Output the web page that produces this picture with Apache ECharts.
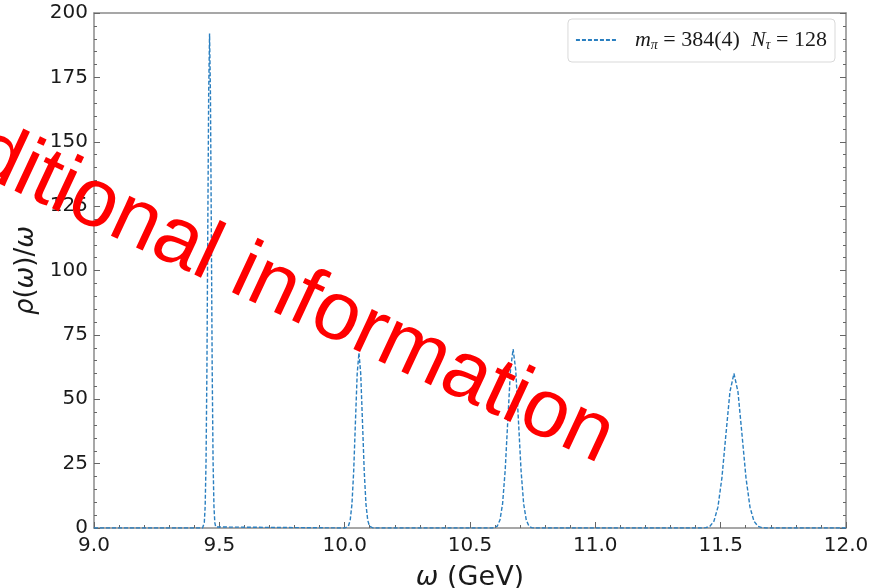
<!DOCTYPE html>
<html>
<head>
<meta charset="utf-8">
<script src="https://cdn.jsdelivr.net/npm/echarts@6/dist/echarts.min.js"></script>
<style>
  html, body { margin: 0; padding: 0; background: #fff; }
  #chart { width: 879px; height: 588px; }
</style>
</head>
<body>
<div id="chart"></div>
<script>
// Spectral function rho(omega)/omega, four resonance peaks on a zero background
const omegaEnds = [9.0, 12.0];
const rhoEnds = [0, 0];

const peak1Omega = [9.4330, 9.4365, 9.4400, 9.4435, 9.4470, 9.4505, 9.4540, 9.4575, 9.4610, 9.4645, 9.4680, 9.4715, 9.4750, 9.4785, 9.4820, 9.4855, 9.4890];
const peak1Rho   = [0, 0.4, 2.1, 8.4, 26, 62, 117, 169, 192, 169, 117, 62, 26, 8.4, 2.1, 0.4, 0];

const peak2Omega = [10.001, 10.008, 10.015, 10.022, 10.029, 10.036, 10.043, 10.050, 10.057, 10.064, 10.071, 10.078, 10.085, 10.092, 10.099, 10.106, 10.113];
const peak2Rho   = [0, 0.15, 0.75, 3.0, 9.2, 22.1, 41.3, 60, 68, 60, 41.3, 22.1, 9.2, 3.0, 0.75, 0.15, 0];

const peak3Omega = [10.588, 10.5985, 10.609, 10.6195, 10.630, 10.6405, 10.651, 10.6615, 10.672, 10.6825, 10.693, 10.7035, 10.714, 10.7245, 10.735, 10.7455, 10.756];
const peak3Rho   = [0, 0.15, 0.76, 3.1, 9.4, 22.6, 42.2, 61.3, 69.5, 61.3, 42.2, 22.6, 9.4, 3.1, 0.76, 0.15, 0];

const peak4Omega = [11.425, 11.441, 11.457, 11.473, 11.489, 11.505, 11.521, 11.537, 11.553, 11.569, 11.585, 11.601, 11.617, 11.633, 11.649, 11.665, 11.681];
const peak4Rho   = [0, 0.13, 0.66, 2.6, 8.1, 19.5, 36.4, 52.9, 60, 52.9, 36.4, 19.5, 8.1, 2.6, 0.66, 0.13, 0];

const xTicks = { min: 9.0, max: 12.0, step: 0.5 };
const yTicks = { min: 0, max: 200, step: 25 };

const seriesName = 'm_pi = 384(4)  N_tau = 128';

// assemble [omega, rho] pairs in ascending omega
function pairs(xs, ys) { return xs.map((x, i) => [x, ys[i]]); }
const curve = [[omegaEnds[0], rhoEnds[0]]]
  .concat(pairs(peak1Omega, peak1Rho))
  .concat(pairs(peak2Omega, peak2Rho))
  .concat(pairs(peak3Omega, peak3Rho))
  .concat(pairs(peak4Omega, peak4Rho))
  .concat([[omegaEnds[1], rhoEnds[1]]]);

const spine = { color: '#8a8a8a', width: 1.5 };
const tickFont = { fontFamily: 'DejaVu Sans', fontSize: 20, color: '#1a1a1a' };
const tickStyle = { color: '#666', width: 1 };

const chart = echarts.init(document.getElementById('chart'), null, { renderer: 'canvas' });
chart.setOption({
  animation: false,
  backgroundColor: '#ffffff',
  grid: { left: 94, right: 33, top: 13, bottom: 60, containLabel: false, outerBoundsMode: 'none' },
  legend: {
    show: true,
    data: [seriesName],
    right: 44, top: 19,
    orient: 'vertical',
    padding: [10, 8, 10, 7],
    borderColor: '#d9d9d9', borderWidth: 1, borderRadius: 4,
    backgroundColor: '#ffffff',
    itemWidth: 42, itemHeight: 10,
    itemGap: 0,
    itemStyle: { opacity: 0 },
    formatter: function () {
      return '{i|m}{s|π}{r| = 384(4)  }{i|N}{s|τ}{r| = 128}';
    },
    textStyle: {
      fontFamily: 'Liberation Serif', fontSize: 22, color: '#1a1a1a',
      padding: [0, 0, 0, 12],
      rich: {
        i: { fontFamily: 'Liberation Serif', fontStyle: 'italic', fontSize: 22, color: '#1a1a1a' },
        s: { fontFamily: 'Liberation Serif', fontStyle: 'italic', fontSize: 14, color: '#1a1a1a', padding: [10, 0, 0, 0] },
        r: { fontFamily: 'Liberation Serif', fontSize: 22, color: '#1a1a1a' }
      }
    }
  },
  xAxis: [{
    type: 'value', min: xTicks.min, max: xTicks.max, interval: xTicks.step,
    name: '{w|ω} (GeV)', nameLocation: 'middle', nameGap: 36,
    nameTextStyle: {
      fontFamily: 'DejaVu Sans', fontSize: 27, color: '#1a1a1a',
      rich: { w: { fontFamily: 'DejaVu Sans', fontStyle: 'italic', fontSize: 27, color: '#1a1a1a' } }
    },
    axisLine: { show: true, onZero: false, lineStyle: spine },
    axisTick: { show: true, inside: true, length: 6, lineStyle: tickStyle },
    minorTick: { show: true, splitNumber: 5, length: 3, lineStyle: tickStyle },
    axisLabel: Object.assign({ margin: 8, formatter: v => v.toFixed(1) }, tickFont),
    splitLine: { show: false }
  }, {
    type: 'value', position: 'top', min: xTicks.min, max: xTicks.max, interval: xTicks.step,
    axisLine: { show: true, onZero: false, lineStyle: spine },
    axisTick: { show: false }, axisLabel: { show: false }, splitLine: { show: false }
  }],
  yAxis: [{
    type: 'value', min: yTicks.min, max: yTicks.max, interval: yTicks.step,
    name: '{g|ρ}({g|ω})/{g|ω}', nameLocation: 'middle', nameGap: 50, nameRotate: 90,
    nameTextStyle: {
      fontFamily: 'DejaVu Sans', fontSize: 26, color: '#1a1a1a',
      rich: { g: { fontFamily: 'DejaVu Sans', fontStyle: 'italic', fontSize: 26, color: '#1a1a1a' } }
    },
    axisLine: { show: true, onZero: false, lineStyle: spine },
    axisTick: { show: true, inside: true, length: 6, lineStyle: tickStyle },
    minorTick: { show: true, splitNumber: 5, length: 3, lineStyle: tickStyle },
    axisLabel: Object.assign({ margin: 6 }, tickFont),
    splitLine: { show: false }
  }, {
    type: 'value', position: 'right', min: yTicks.min, max: yTicks.max, interval: yTicks.step,
    axisLine: { show: true, onZero: false, lineStyle: spine },
    axisTick: { show: true, inside: true, length: 6, lineStyle: tickStyle },
    minorTick: { show: true, splitNumber: 5, length: 3, lineStyle: tickStyle },
    axisLabel: { show: false }, splitLine: { show: false }
  }],
  series: [{
    name: seriesName,
    type: 'line',
    xAxisIndex: 0, yAxisIndex: 0,
    data: curve,
    showSymbol: false, symbol: 'none',
    clip: true,
    lineStyle: { color: '#2a7fc0', width: 1.4, type: [4, 2] },
    itemStyle: { color: '#2a7fc0' },
    z: 5
  }],
  graphic: [{
    type: 'text',
    x: 247, y: 274,
    rotation: -25 * Math.PI / 180,
    z: 100,
    style: {
      text: 'Additional information',
      fontFamily: 'Liberation Sans', fontSize: 83,
      fill: '#ff0000',
      align: 'center', verticalAlign: 'middle'
    }
  }]
});
</script>
</body>
</html>
